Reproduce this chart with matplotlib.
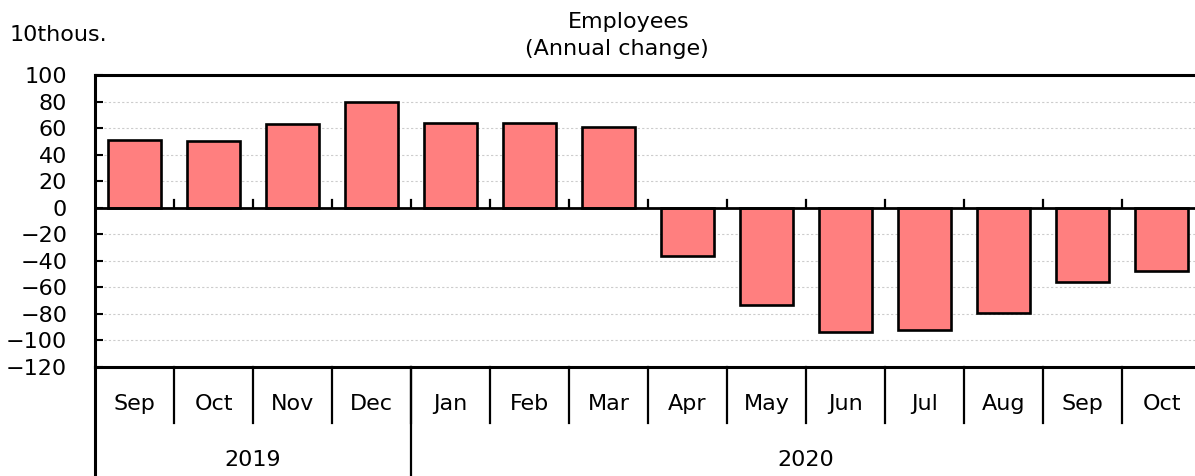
import matplotlib
matplotlib.use("Agg")
import matplotlib.pyplot as plt
import matplotlib.transforms as mtransforms

months = ["Sep", "Oct", "Nov", "Dec", "Jan", "Feb", "Mar",
          "Apr", "May", "Jun", "Jul", "Aug", "Sep", "Oct"]
values = [51, 50, 63, 80, 64, 64, 61, -36, -73, -94, -92, -79, -56, -48]
years = ["2019", "2020"]
year_spans = [(0, 3), (4, 13)]
yticks = list(range(-120, 101, 20))

W, H = 1195, 476
fig = plt.figure(figsize=(W / 100, H / 100), dpi=100)
ax = fig.add_axes([95 / W, (H - 367) / H, 1106 / W, 292 / H])

FS = 16
x = list(range(len(months)))
ax.bar(x, values, width=0.66, color="#FF7F7F", edgecolor="black", linewidth=1.9, zorder=3)

ax.set_xlim(-0.5, len(months) - 0.5)
ax.set_ylim(-120, 100)
ax.set_yticks(yticks)
ax.set_yticklabels([str(v).replace("-", "\u2212") for v in yticks], fontsize=FS)
ax.tick_params(axis="y", direction="in", length=6, width=1.5, pad=20)
ax.set_xticks([])

# dotted grid
for v in yticks:
    if v not in (0, 100, -120):
        ax.axhline(v, color="#cccccc", linestyle=(0, (2, 2)), linewidth=0.8, zorder=1)
ax.axhline(0, color="black", linewidth=2, zorder=4)

for s in ["left", "top", "bottom"]:
    ax.spines[s].set_linewidth(2.2)
ax.spines["right"].set_visible(False)

# little ticks on the zero line at category boundaries
for i in range(1, len(months)):
    ax.plot([i - 0.5, i - 0.5], [0, 6], color="black", linewidth=1.6, zorder=4)

# category table below the axis
trans = mtransforms.blended_transform_factory(ax.transData, ax.transAxes)
row1 = (367 - 423) / 292
row2 = (367 - 476) / 292
for i, m in enumerate(months):
    ax.text(i, (367 - 404) / 292, m, transform=trans, ha="center", va="center", fontsize=FS)
    if i > 0:
        ax.plot([i - 0.5, i - 0.5], [0, row1], transform=trans, color="black",
                linewidth=1.6, clip_on=False)
for (a, b), yr in zip(year_spans, years):
    ax.plot([a - 0.5, a - 0.5], [0, row2], transform=trans, color="black",
            linewidth=1.6 if a > 0 else 2.2, clip_on=False)
    ax.text((a + b) / 2, (367 - 460) / 292, yr, transform=trans, ha="center",
            va="center", fontsize=FS)

fig.text(629 / W, 1 - 22 / H, "Employees", ha="center", va="center", fontsize=FS)
fig.text(617 / W, 1 - 49 / H, "(Annual change)", ha="center", va="center", fontsize=FS)
fig.text(10 / W, 1 - 35 / H, "10thous.", ha="left", va="center", fontsize=FS)

fig.savefig("out.png", dpi=100)
